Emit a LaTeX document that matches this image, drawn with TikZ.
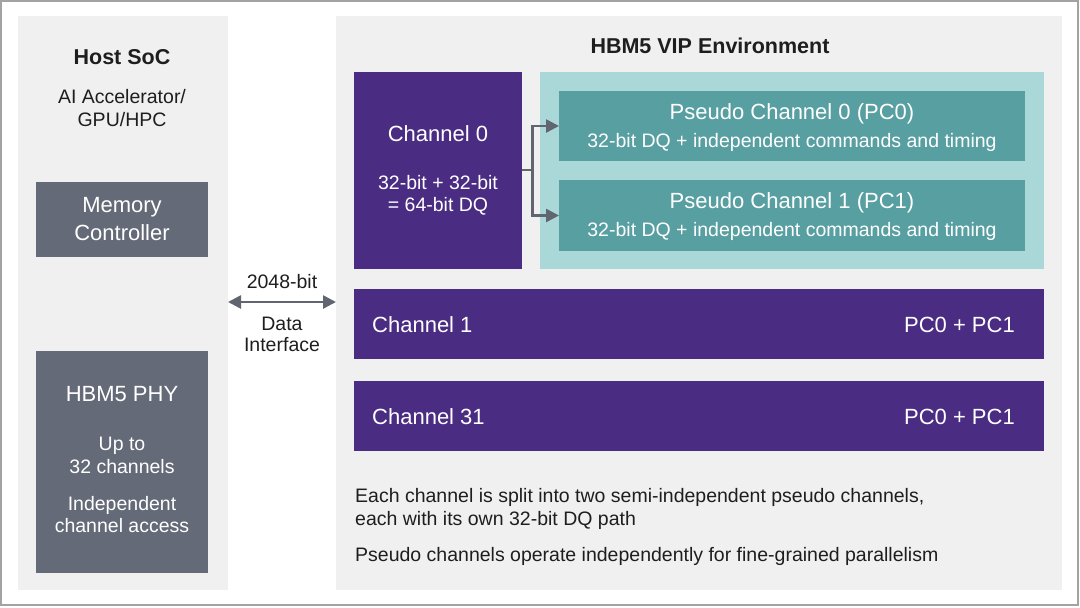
\documentclass[tikz,border=0pt]{standalone}
\usepackage{fontspec}
\setmainfont{Liberation Sans}
\usetikzlibrary{arrows.meta,positioning}

\definecolor{panelbg}{HTML}{F0F0F0}
\definecolor{boxgray}{HTML}{646A77}
\definecolor{chanpurple}{HTML}{4B2C83}
\definecolor{tealbg}{HTML}{AAD8D9}
\definecolor{tealbox}{HTML}{589FA2}
\definecolor{arrowgray}{HTML}{60656F}
\definecolor{framegray}{HTML}{A3A3A3}
\definecolor{txtdark}{HTML}{1E1E1E}
\definecolor{txtlight}{HTML}{F4EFFF}

\tikzset{
  box/.style={anchor=north west, inner sep=0pt, outer sep=0pt},
  panel/.style={box, fill=panelbg},
  graybox/.style={box, fill=boxgray},
  chanbox/.style={box, fill=chanpurple},
  tealwrap/.style={box, fill=tealbg},
  pcbox/.style={box, fill=tealbox},
  txt/.style={inner sep=0pt, text height=14pt, text depth=0pt,
    font=\fontsize{19.5}{23}\selectfont, text=txtdark},
  hd/.style={txt, text height=15.8pt, font=\fontsize{22}{26}\selectfont, text=white},
  ttl/.style={txt, text height=15.5pt, font=\fontsize{21.5}{26}\selectfont\bfseries},
  onbox/.style={txt, text=white},
  tip/.tip={Triangle[length=13pt,width=13pt]},
  link/.style={draw=arrowgray, line width=2.6pt, -tip},
}

\begin{document}
\begin{tikzpicture}[x=1pt,y=-1pt]
\useasboundingbox (0,0) rectangle (1080,608);
\draw[framegray, line width=1.5pt] (1,1) rectangle (1078,605);

% host side
\node[panel, minimum width=210, minimum height=574] (host) at (18,16) {};
\node[ttl] (hostname) at (122,56.5) {Host SoC};
\node[txt] (hostkind) at (122,96) {AI Accelerator/};
\node[txt] (hostkind2) at (122,119.5) {GPU/HPC};
\node[graybox, minimum width=172, minimum height=75] (memctl) at (36,182) {};
\node[hd] (memctlA) at (122,205) {Memory};
\node[hd] (memctlB) at (122,232.5) {Controller};
\node[graybox, minimum width=172, minimum height=222] (phy) at (36,351) {};
\node[hd] (phyname) at (122,393.5) {HBM5 PHY};
\node[onbox] (phyA) at (122,443.5) {Up to};
\node[onbox] (phyB) at (122,466) {32 channels};
\node[onbox] (phyC) at (122,503.5) {Independent};
\node[onbox] (phyD) at (122,525.5) {channel access};

% memory side
\node[panel, minimum width=726, minimum height=574] (vip) at (336,16) {};
\node[ttl] (viptitle) at (710,46) {HBM5 VIP Environment};

\node[chanbox, minimum width=168, minimum height=197] (ch0) at (354,72) {};
\node[hd] (ch0name) at (438,133.5) {Channel 0};
\node[onbox] (ch0A) at (438,182) {32-bit + 32-bit};
\node[onbox] (ch0B) at (438,204.5) {= 64-bit DQ};

\node[tealwrap, minimum width=504, minimum height=197] (pcwrap) at (540,72) {};
\node[pcbox, minimum width=466, minimum height=70] (pc0) at (559,91) {};
\node[hd] (pc0name) at (792,111.5) {Pseudo Channel 0 (PC0)};
\node[onbox] (pc0info) at (792,140) {32-bit DQ + independent commands and timing};
\node[pcbox, minimum width=466, minimum height=71] (pc1) at (559,180) {};
\node[hd] (pc1name) at (792,200.5) {Pseudo Channel 1 (PC1)};
\node[onbox] (pc1info) at (792,229) {32-bit DQ + independent commands and timing};

\node[chanbox, minimum width=690, minimum height=70] (ch1) at (354,289) {};
\node[hd, anchor=west] (ch1name) at (372,325) {Channel 1};
\node[hd, anchor=east] (ch1pc) at (1015,325) {PC0 + PC1};
\node[chanbox, minimum width=690, minimum height=70] (ch31) at (354,381) {};
\node[hd, anchor=west] (ch31name) at (372,416.5) {Channel 31};
\node[hd, anchor=east] (ch31pc) at (1015,416.5) {PC0 + PC1};

\node[txt, anchor=west] (noteA) at (355,495) {Each channel is split into two semi-independent pseudo channels,};
\node[txt, anchor=west] (noteB) at (355,518) {each with its own 32-bit DQ path};
\node[txt, anchor=west] (noteC) at (355,554.5) {Pseudo channels operate independently for fine-grained parallelism};

% connectors
\draw[link, tip-tip] (host.east |- 0,302) -- (vip.west |- 0,302);
\node[txt] (buswidth) at (282,281.5) {2048-bit};
\node[txt] (busA) at (282,323.5) {Data};
\node[txt] (busB) at (282,344.5) {Interface};

\draw[link] (ch0.east |- 0,170) -- ++(10.5,0) |- (pc0.west);
\draw[link] (ch0.east |- 0,170) -- ++(10.5,0) |- (pc1.west);
\end{tikzpicture}
\end{document}
